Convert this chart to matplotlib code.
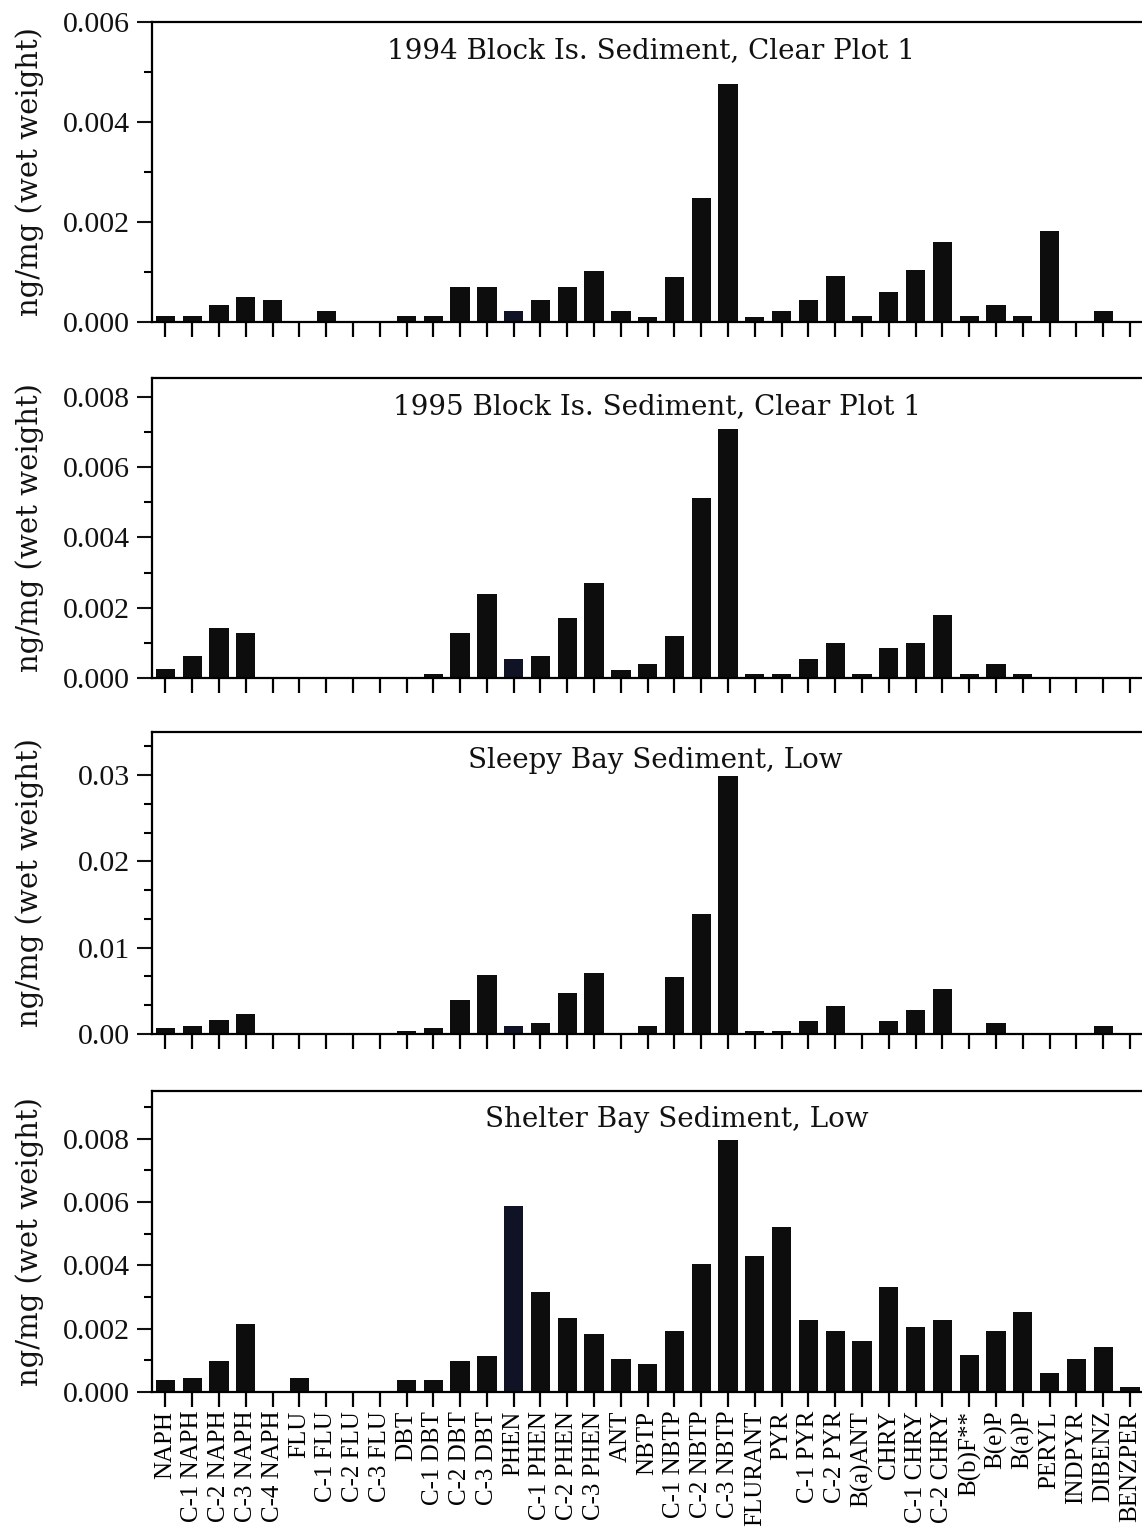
# %%
import matplotlib
matplotlib.use('Agg')
import matplotlib.pyplot as plt
from matplotlib.ticker import AutoMinorLocator, FormatStrFormatter, MultipleLocator

# %%
compounds = ['NAPH', 'C-1 NAPH', 'C-2 NAPH', 'C-3 NAPH', 'C-4 NAPH',
             'FLU', 'C-1 FLU', 'C-2 FLU', 'C-3 FLU',
             'DBT', 'C-1 DBT', 'C-2 DBT', 'C-3 DBT',
             'PHEN', 'C-1 PHEN', 'C-2 PHEN', 'C-3 PHEN', 'ANT',
             'NBTP', 'C-1 NBTP', 'C-2 NBTP', 'C-3 NBTP',
             'FLURANT', 'PYR', 'C-1 PYR', 'C-2 PYR', 'B(a)ANT',
             'CHRY', 'C-1 CHRY', 'C-2 CHRY', 'B(b)F**', 'B(e)P', 'B(a)P',
             'PERYL', 'INDPYR', 'DIBENZ', 'BENZPER']

# ng/mg wet weight
block_1994 = [0.00012, 0.00012, 0.00034, 0.00050, 0.00044,
              0.0, 0.00023, 0.0, 0.0,
              0.00012, 0.00012, 0.00071, 0.00071,
              0.00023, 0.00044, 0.00071, 0.00103, 0.00022,
              0.00011, 0.00091, 0.00249, 0.00477,
              0.00011, 0.00022, 0.00044, 0.00092, 0.00013,
              0.00061, 0.00104, 0.00161, 0.00013, 0.00034, 0.00013,
              0.00182, 0.0, 0.00023, 0.0]

block_1995 = [0.00025, 0.00062, 0.00142, 0.00128, 0.0,
              0.0, 0.0, 0.0, 0.0,
              0.0, 0.00010, 0.00129, 0.00240,
              0.00055, 0.00063, 0.00172, 0.00271, 0.00024,
              0.00040, 0.00120, 0.00512, 0.00710,
              0.00010, 0.00010, 0.00054, 0.00100, 0.00011,
              0.00086, 0.00100, 0.00180, 0.00010, 0.00041, 0.00010,
              0.0, 0.0, 0.0, 0.0]

sleepy_bay = [0.00066, 0.00097, 0.0016, 0.0023, 0.0,
              0.0, 0.0, 0.0, 0.0,
              0.0004, 0.00066, 0.0039, 0.0068,
              0.00097, 0.0013, 0.0048, 0.0071, 0.0,
              0.0009, 0.0066, 0.0139, 0.0299,
              0.0003, 0.0003, 0.0015, 0.0032, 0.0,
              0.0015, 0.0028, 0.0052, 0.0, 0.0013, 0.0,
              0.0, 0.0, 0.0009, 0.0]

shelter_bay = [0.00037, 0.00045, 0.00097, 0.00215, 0.0,
               0.00045, 0.0, 0.0, 0.0,
               0.00037, 0.00037, 0.00097, 0.00114,
               0.00587, 0.00316, 0.00233, 0.00182, 0.00104,
               0.00088, 0.00193, 0.00405, 0.00794,
               0.0043, 0.0052, 0.00228, 0.00193, 0.0016,
               0.0033, 0.00205, 0.00228, 0.00117, 0.00193, 0.00253,
               0.0006, 0.00104, 0.00143, 0.00016]

titles = ['1994 Block Is. Sediment, Clear Plot 1',
          '1995 Block Is. Sediment, Clear Plot 1',
          'Sleepy Bay Sediment, Low',
          'Shelter Bay Sediment, Low']

# %%
plt.rcParams['font.family'] = ['Liberation Serif', 'DejaVu Serif']
plt.rcParams['axes.linewidth'] = 1.6

W, H = 1142, 1539
fig = plt.figure(figsize=(W / 100, H / 100), dpi=100)

# (values, ymax, major step, minor divisions, label format, title x, axes top px, axes bottom px)
panels = [
    (block_1994, 0.006, 0.002, 2, '%.3f', 0.504, 22, 322),
    (block_1995, 0.00854, 0.002, 2, '%.3f', 0.510, 378, 678),
    (sleepy_bay, 0.035, 0.01, 3, '%.2f', 0.508, 732, 1034),
    (shelter_bay, 0.0095, 0.002, 2, '%.3f', 0.530, 1091, 1392),
]

left_px = 152
x = list(range(len(compounds)))
colors = ['#101226' if c == 'PHEN' else '#0d0d0d' for c in compounds]

for k, (vals, ymax, step, ndiv, fmt, tx, top, bot) in enumerate(panels):
    ax = fig.add_axes([left_px / W, 1 - bot / H, 1 - left_px / W, (bot - top) / H])
    ax.bar(x, vals, width=0.72, color=colors, linewidth=0)
    ax.set_xlim(-0.5, 36.45)
    ax.set_ylim(0, ymax)
    ax.spines['right'].set_visible(False)

    ax.yaxis.set_major_locator(MultipleLocator(step))
    ax.yaxis.set_minor_locator(AutoMinorLocator(ndiv))
    ax.yaxis.set_major_formatter(FormatStrFormatter(fmt))
    ax.tick_params(axis='y', which='major', direction='out', length=11, width=1.5,
                   labelsize=21.5, pad=5, colors='#111111')
    ax.tick_params(axis='y', which='minor', direction='out', length=5.5, width=1.5)

    ax.set_xticks(x)
    ax.tick_params(axis='x', direction='out', length=10.5, width=1.6, pad=3)
    if k == len(panels) - 1:
        ax.set_xticklabels(compounds, rotation=90, fontsize=18)
    else:
        ax.tick_params(axis='x', labelbottom=False)

    ax.text(tx, 0.88, titles[k], transform=ax.transAxes, ha='center', va='baseline',
            fontsize=20, family='DejaVu Serif', color='#111111')

    fig.text(29.5 / W, 1 - (top + bot) / 2 / H, 'ng/mg (wet weight)', rotation=90,
             ha='center', va='center', fontsize=21, family='DejaVu Serif', color='#111111')

fig.savefig('out.png', dpi=100)
